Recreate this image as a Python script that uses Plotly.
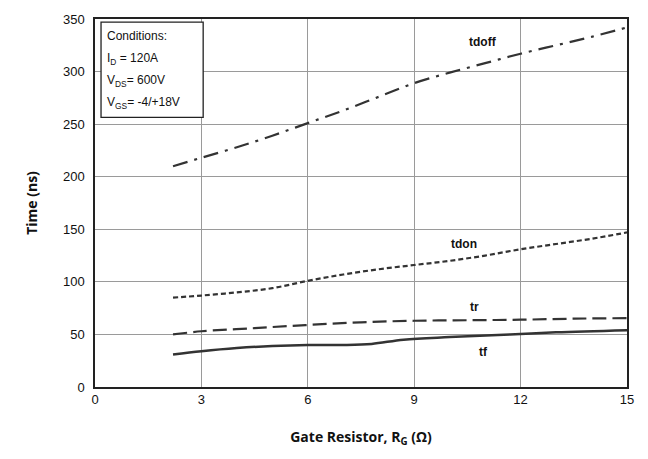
import plotly.graph_objects as go

# Data (Gate resistor in ohm, time in ns)
rg_tdoff = [2.2, 3.0, 4.0, 5.0, 6.0, 7.0, 8.0, 9.0, 10.0, 11.0, 12.0, 13.0, 14.0, 15.0]
t_tdoff = [210, 218, 228, 239, 251, 263, 276, 289, 299, 308, 317, 325, 333, 342]

rg_tdon = [2.2, 3.0, 4.0, 5.0, 6.0, 7.0, 8.0, 9.0, 10.0, 11.0, 12.0, 13.0, 14.0, 15.0]
t_tdon = [85, 87, 90, 94, 101, 107, 112, 116, 120, 125, 131, 136, 141, 147]

rg_tr = [2.2, 3.0, 4.5, 6.0, 7.5, 9.0, 10.5, 12.0, 13.5, 15.0]
t_tr = [50, 53, 56, 59, 61.5, 63, 63.5, 64, 65, 65.5]

rg_tf = [2.2, 3.0, 4.0, 5.0, 6.0, 7.0, 7.8, 8.7, 10.0, 11.7, 13.0, 15.0]
t_tf = [31, 34, 37, 39, 40, 40, 41, 45, 47.5, 50, 52, 54]

x_ticks = [0, 3, 6, 9, 12, 15]
y_ticks = [0, 50, 100, 150, 200, 250, 300, 350]

line_col = "#333333"

fig = go.Figure()
fig.add_trace(go.Scatter(x=rg_tdoff, y=t_tdoff, mode="lines", line_shape="spline",
                         line=dict(color=line_col, width=2.2, dash="15px,7px,3px,7px")))
fig.add_trace(go.Scatter(x=rg_tdon, y=t_tdon, mode="lines", line_shape="spline",
                         line=dict(color=line_col, width=2.2, dash="5px,3px")))
fig.add_trace(go.Scatter(x=rg_tr, y=t_tr, mode="lines", line_shape="spline",
                         line=dict(color=line_col, width=2.2, dash="14px,6px")))
fig.add_trace(go.Scatter(x=rg_tf, y=t_tf, mode="lines", line_shape="spline",
                         line=dict(color=line_col, width=2.5)))

lab_font = dict(family="Liberation Sans, Arial", size=12, color="#111111")
for txt, x, y in [("<b>tdoff</b>", 10.93, 328), ("<b>tdon</b>", 10.4, 136),
                  ("<b>tr</b>", 10.7, 76), ("<b>tf</b>", 10.95, 33)]:
    fig.add_annotation(x=x, y=y, text=txt, showarrow=False, font=lab_font)

# Conditions box
fig.add_shape(type="rect", x0=0.17, x1=3.05, y0=256.5, y1=347,
              line=dict(color="#222222", width=1.3), fillcolor="white", layer="above")
cond_font = dict(family="Liberation Sans, Arial", size=12, color="#111111")
cond_lines = ["Conditions:", "I<sub>D</sub> = 120A", "V<sub>DS</sub>= 600V", "V<sub>GS</sub>= -4/+18V"]
cond_y = [334, 312, 291, 270]
for t, y in zip(cond_lines, cond_y):
    fig.add_annotation(x=0.28, y=y, text=t, showarrow=False, xanchor="left",
                       yanchor="middle", font=cond_font)

axis_common = dict(showgrid=True, gridcolor="#9a9a9a", gridwidth=1,
                   showline=True, linecolor="#222222", linewidth=1.5, mirror=True,
                   zeroline=False, ticks="", tickfont=dict(family="Liberation Sans, Arial",
                                                           size=13, color="#111111"))

fig.update_layout(
    width=648, height=459,
    margin=dict(l=95, r=21, t=15, b=72),
    paper_bgcolor="white", plot_bgcolor="white",
    showlegend=False,
    xaxis=dict(range=[0, 15], tickvals=x_ticks, ticktext=[str(v) for v in x_ticks],
               title=dict(text="<b>Gate Resistor, R<sub>G</sub> (Ω)</b>",
                          font=dict(family="Open Sans", size=14, color="#111111"), standoff=26),
               **axis_common),
    yaxis=dict(range=[0, 350], tickvals=y_ticks, ticktext=[str(v) for v in y_ticks],
               title=dict(text="<b>Time (ns)</b>",
                          font=dict(family="Open Sans", size=14, color="#111111"), standoff=22),
               ticklabelstandoff=6,
               **axis_common),
)

fig.write_html("out.html", config={"displayModeBar": False},
               post_script="document.body.style.margin='0px';")
